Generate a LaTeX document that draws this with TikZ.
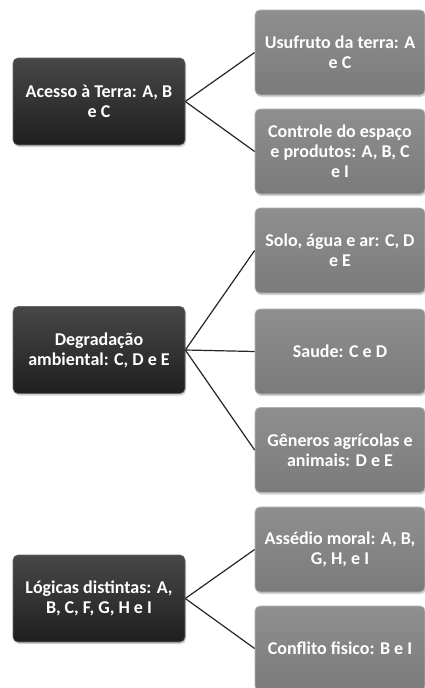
\documentclass[tikz,border=0pt]{standalone}
\usepackage{fontspec}
\setmainfont{Carlito}
\usetikzlibrary{shadows}
\begin{document}
\begin{tikzpicture}[x=1pt,y=1pt,
  base/.style={rectangle, rounded corners=5pt, inner sep=0pt, align=center, text=white,
    font=\fontsize{18}{20}\selectfont\bfseries,
    drop shadow={shadow xshift=1pt, shadow yshift=-2pt, opacity=0.35}},
  mainbox/.style={base, top color=black!72, bottom color=black!88, draw=black!60, line width=0.6pt,
    minimum width=172pt, minimum height=87pt},
  subbox/.style={base, top color=black!44, bottom color=black!52, draw=black!30, line width=0.8pt,
    minimum width=170pt, minimum height=85pt},
  link/.style={draw=black!85, line width=1.2pt}]
\useasboundingbox (0,0) rectangle (425,-688);
\fill[white] (0,0) rectangle (425,-688);
% main boxes
\node[mainbox] (m1) at (99,-101.5) {Acesso à Terra: A, B\\e C};
\node[mainbox] (m2) at (99,-350) {Degradação\\ambiental: C, D e E};
\node[mainbox] (m3) at (99,-598.5) {Lógicas distintas: A,\\B, C, F, G, H e I};
% sub boxes
\node[subbox] (s1) at (340,-52.5) {Usufruto da terra: A\\e C};
\node[subbox] (s2) at (340,-151.5) {Controle do espaço\\e produtos: A, B, C\\e I};
\node[subbox] (s3) at (340,-250.5) {Solo, água e ar: C, D\\e E};
\node[subbox] (s4) at (340,-351.5) {Saude: C e D};
\node[subbox] (s5) at (340,-450) {Gêneros agrícolas e\\animais: D e E};
\node[subbox] (s6) at (340,-549.5) {Assédio moral: A, B,\\G, H, e I};
\node[subbox] (s7) at (340,-648.5) {Conflito fisico: B e I};
% links
\draw[link] (m1.east) -- (s1.west);
\draw[link] (m1.east) -- (s2.west);
\draw[link] (m2.east) -- (s3.west);
\draw[link] (m2.east) -- (s4.west);
\draw[link] (m2.east) -- (s5.west);
\draw[link] (m3.east) -- (s6.west);
\draw[link] (m3.east) -- (s7.west);
\end{tikzpicture}
\end{document}
